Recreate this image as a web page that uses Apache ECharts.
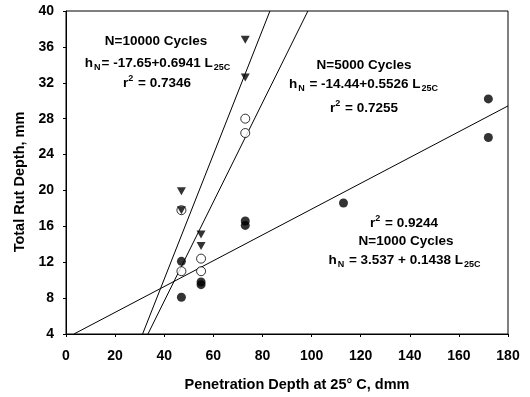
<!DOCTYPE html>
<html>
<head>
<meta charset="utf-8">
<script src="https://cdn.jsdelivr.net/npm/echarts@6/dist/echarts.min.js"></script>
<style>
  html, body { margin: 0; padding: 0; background: #fff; }
  #chart { width: 530px; height: 397px; }
</style>
</head>
<body>
<div id="chart"></div>
<script>
// Penetration (dmm) and total rut depth (mm) at three load repetition levels
const pen1000 = [47, 47, 55, 55, 73, 73, 113, 172, 172];
const rut1000 = [12.1, 8.1, 9.8, 9.5, 16.6, 16.1, 18.6, 30.2, 25.9];

const pen5000 = [47, 47, 55, 55, 73, 73];
const rut5000 = [17.8, 11.0, 12.4, 11.0, 28.0, 26.4];

const pen10000 = [47, 47, 55, 55, 73, 73];
const rut10000 = [19.9, 17.8, 15.1, 13.8, 36.8, 32.6];

// Regression fits h_N = a + b * L25C (1000, 5000, 10000 cycles)
const fitIntercept = [3.537, -14.44, -17.65];
const fitSlope = [0.1438, 0.5526, 0.6941];

// Axis ranges and tick spacing
const xMin = 0, xMax = 180, xStep = 20;
const yMin = 4, yMax = 40, yStep = 4;

const FONT = '"Liberation Sans", Arial, sans-serif';

function pairs(xs, ys) { return xs.map((x, i) => [x, ys[i]]); }

// Endpoints of a fit line clipped to the plotting window
function fitSegment(a, b) {
  let x0 = Math.max(xMin, (yMin - a) / b);
  let x1 = Math.min(xMax, (yMax - a) / b);
  return [[x0, a + b * x0], [x1, a + b * x1]];
}

const fitSeries = fitIntercept.map((a, i) => ({
  type: 'line',
  data: fitSegment(a, fitSlope[i]),
  symbol: 'none',
  silent: true,
  lineStyle: { color: '#000', width: 1 },
  z: 2
}));

const richStyles = {
  b: { fontFamily: FONT, fontWeight: 'bold', fontSize: 13.5, lineHeight: 18, color: '#000' },
  s: { fontFamily: FONT, fontWeight: 'bold', fontSize: 9, lineHeight: 8, verticalAlign: 'bottom', color: '#000', padding: [0, 1, 0, 1] },
  p: { fontFamily: FONT, fontWeight: 'bold', fontSize: 9, lineHeight: 8, verticalAlign: 'top', color: '#000', padding: [0, 1, 0, 0] }
};

function label(x, y, text) {
  return {
    type: 'text', x: x, y: y, z: 10,
    style: { text: text, align: 'center', verticalAlign: 'middle', rich: richStyles,
             fill: '#000', font: 'bold 13.5px ' + FONT }
  };
}

const chart = echarts.init(document.getElementById('chart'), null, { renderer: 'canvas' });

chart.setOption({
  animation: false,
  backgroundColor: '#fff',
  grid: { left: 66, right: 22, top: 11, bottom: 63, show: true, borderColor: '#000', borderWidth: 1, containLabel: false },
  xAxis: {
    type: 'value', min: xMin, max: xMax, interval: xStep,
    axisLine: { show: true, lineStyle: { color: '#000', width: 1 } },
    axisTick: { show: true, length: 3, lineStyle: { color: '#000' } },
    axisLabel: { color: '#000', fontFamily: FONT, fontWeight: 'bold', fontSize: 14, margin: 15 },
    splitLine: { show: false }
  },
  yAxis: {
    type: 'value', min: yMin, max: yMax, interval: yStep,
    axisLine: { show: true, lineStyle: { color: '#000', width: 1 } },
    axisTick: { show: true, length: 3, lineStyle: { color: '#000' } },
    axisLabel: { color: '#000', fontFamily: FONT, fontWeight: 'bold', fontSize: 14, margin: 12 },
    splitLine: { show: false }
  },
  series: fitSeries.concat([
    {
      name: 'N=1000', type: 'scatter', data: pairs(pen1000, rut1000),
      symbol: 'circle', symbolSize: 9,
      itemStyle: { color: '#000' }, z: 3
    },
    {
      name: 'N=5000', type: 'scatter', data: pairs(pen5000, rut5000),
      symbol: 'circle', symbolSize: 9,
      itemStyle: { color: '#fff', borderColor: '#000', borderWidth: 1 }, z: 4
    },
    {
      name: 'N=10000', type: 'scatter', data: pairs(pen10000, rut10000),
      symbol: 'triangle', symbolSize: [9, 8], symbolRotate: 180,
      itemStyle: { color: '#000' }, z: 5
    }
  ]),
  graphic: [
    label(156, 41, '{b|N=10000 Cycles}'),
    label(158, 63, '{b|h}{s|N}{b|= -17.65+0.6941 L}{s|25C}'),
    label(157, 83, '{b|r}{p|2}{b| = 0.7346}'),

    label(364, 65, '{b|N=5000 Cycles}'),
    label(364, 84, '{b|h}{s|N}{b| = -14.44+0.5526 L}{s|25C}'),
    label(364, 108, '{b|r}{p|2}{b| = 0.7255}'),

    label(404, 223, '{b|r}{p|2}{b| = 0.9244}'),
    label(406, 241, '{b|N=1000 Cycles}'),
    label(405, 260, '{b|h}{s|N}{b| = 3.537 + 0.1438 L}{s|25C}'),

    {
      type: 'text', x: 297, y: 385,
      style: { text: 'Penetration Depth at 25° C, dmm', align: 'center', verticalAlign: 'middle',
               font: 'bold 14.5px ' + FONT, fill: '#000' }
    },
    {
      type: 'text', x: 20, y: 182, rotation: Math.PI / 2,
      style: { text: 'Total Rut Depth, mm', align: 'center', verticalAlign: 'middle',
               font: 'bold 14.5px ' + FONT, fill: '#000' }
    }
  ]
});
</script>
</body>
</html>
